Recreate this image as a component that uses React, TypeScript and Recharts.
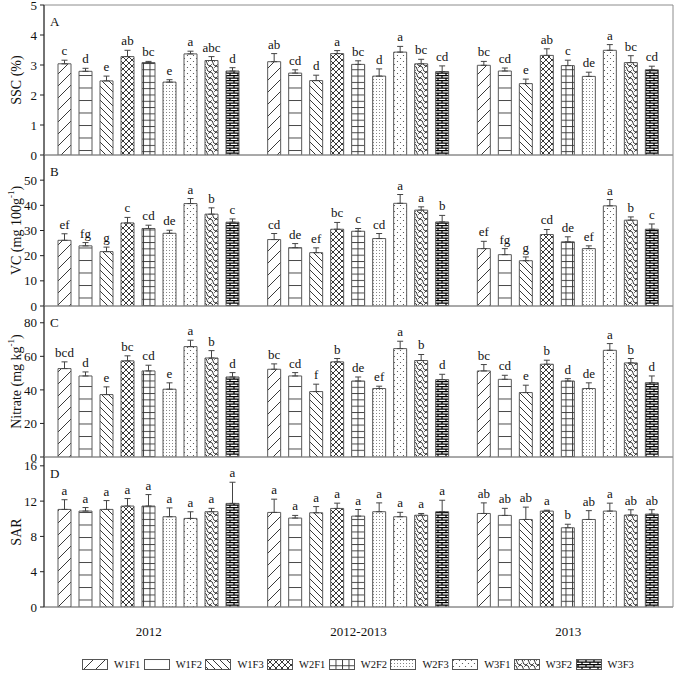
import React from 'react';
import { BarChart, Bar, XAxis, YAxis, ErrorBar, LabelList, ReferenceArea, Label, Legend } from 'recharts';

const FONT = '"Liberation Serif", "Times New Roman", serif';

const categories = ['2012', '2012-2013', '2013'];
const treatments = ['W1F1', 'W1F2', 'W1F3', 'W2F1', 'W2F2', 'W2F3', 'W3F1', 'W3F2', 'W3F3'];

// A: SSC (%)
const sscMeans = [
  [3.04, 2.79, 2.47, 3.28, 3.08, 2.43, 3.37, 3.15, 2.8],
  [3.11, 2.73, 2.48, 3.38, 3.02, 2.63, 3.43, 3.04, 2.78],
  [2.99, 2.8, 2.38, 3.32, 2.98, 2.62, 3.49, 3.08, 2.84],
];
const sscErrs = [
  [0.12, 0.1, 0.16, 0.21, 0.04, 0.08, 0.09, 0.13, 0.11],
  [0.27, 0.11, 0.18, 0.1, 0.12, 0.24, 0.19, 0.15, 0.19],
  [0.13, 0.1, 0.15, 0.22, 0.18, 0.14, 0.19, 0.23, 0.12],
];
const sscLetters = [
  ['c', 'd', 'e', 'ab', 'bc', 'e', 'a', 'abc', 'd'],
  ['ab', 'cd', 'd', 'a', 'bc', 'd', 'a', 'bc', 'cd'],
  ['bc', 'cd', 'e', 'ab', 'c', 'de', 'a', 'bc', 'cd'],
];

// B: VC (mg 100g-1)
const vcMeans = [
  [26.1, 23.9, 21.6, 33.0, 30.8, 28.9, 40.7, 36.5, 33.3],
  [26.4, 23.2, 21.2, 30.5, 29.7, 26.8, 40.8, 38.1, 33.4],
  [22.8, 20.4, 18.0, 28.4, 25.5, 22.8, 39.8, 34.1, 30.5],
];
const vcErrs = [
  [2.6, 1.3, 1.8, 2.2, 1.3, 1.2, 2.0, 2.5, 1.3],
  [2.4, 1.6, 1.9, 2.7, 1.1, 2.0, 3.5, 1.3, 2.6],
  [2.9, 2.4, 1.5, 2.0, 2.0, 1.1, 2.5, 1.3, 2.1],
];
const vcLetters = [
  ['ef', 'fg', 'g', 'c', 'cd', 'de', 'a', 'b', 'c'],
  ['cd', 'de', 'ef', 'bc', 'c', 'cd', 'a', 'a', 'b'],
  ['ef', 'fg', 'g', 'cd', 'de', 'ef', 'a', 'b', 'c'],
];

// C: Nitrate (mg kg-1)
const nitMeans = [
  [52.7, 48.3, 37.2, 57.3, 51.3, 40.4, 65.8, 59.0, 47.7],
  [52.3, 48.3, 39.0, 56.7, 45.3, 40.8, 64.6, 57.5, 46.1],
  [51.3, 46.3, 38.4, 55.3, 45.3, 40.8, 63.6, 56.1, 44.3],
];
const nitErrs = [
  [4.0, 2.4, 4.6, 3.0, 3.4, 3.8, 3.8, 4.4, 2.6],
  [3.2, 2.0, 4.4, 2.0, 2.4, 1.4, 4.4, 3.6, 3.2],
  [3.8, 2.4, 4.4, 2.4, 1.4, 3.4, 4.0, 2.6, 4.0],
];
const nitLetters = [
  ['bcd', 'd', 'e', 'bc', 'cd', 'e', 'a', 'b', 'd'],
  ['bc', 'cd', 'f', 'b', 'de', 'ef', 'a', 'b', 'd'],
  ['bc', 'cd', 'e', 'b', 'd', 'de', 'a', 'b', 'd'],
];

// D: SAR
const sarMeans = [
  [11.06, 10.87, 11.06, 11.44, 11.44, 10.23, 10.04, 10.8, 11.74],
  [10.72, 10.08, 10.68, 11.17, 10.3, 10.8, 10.23, 10.4, 10.8],
  [10.6, 10.38, 9.92, 10.87, 8.98, 9.92, 10.87, 10.42, 10.53],
];
const sarErrs = [
  [1.1, 0.4, 1.0, 0.85, 1.3, 1.0, 0.75, 0.38, 2.4],
  [1.5, 0.3, 0.7, 0.6, 0.75, 1.0, 0.5, 0.2, 1.3],
  [1.2, 0.8, 1.4, 0.1, 0.4, 1.0, 0.9, 0.6, 0.5],
];
const sarLetters = [
  ['a', 'a', 'a', 'a', 'a', 'a', 'a', 'a', 'a'],
  ['a', 'a', 'a', 'a', 'a', 'a', 'a', 'a', 'a'],
  ['ab', 'ab', 'ab', 'a', 'b', 'ab', 'a', 'ab', 'ab'],
];

const sscTicks = [0, 1, 2, 3, 4, 5];
const vcTicks = [0, 10, 20, 30, 40, 50];
const nitTicks = [0, 20, 40, 60, 80];
const sarTicks = [0, 4, 8, 12, 16];

function buildRows(means: number[][], errs: number[][], letters: string[][]) {
  return categories.map((c, ci) => {
    const row: any = { year: c };
    treatments.forEach((t, ti) => {
      row[t] = means[ci][ti];
      row[t + '_e'] = [0, errs[ci][ti]];
      row[t + '_l'] = `${letters[ci][ti]}|${errs[ci][ti]}|${means[ci][ti]}`;
    });
    return row;
  });
}

const PatternDefs = () => (
  <svg width={0} height={0} style={{ position: 'absolute', left: 0, top: 0 }}>
    <defs>
      <pattern id="pat0" patternUnits="userSpaceOnUse" width={12} height={12}>
        <rect width={12} height={12} fill="#fff" />
        <path d="M0,12 L12,0 M-3,3 L3,-3 M9,15 L15,9" stroke="#222" strokeWidth={0.9} />
      </pattern>
      <pattern id="pat1" patternUnits="userSpaceOnUse" width={6} height={12.5}>
        <rect width={6} height={12.5} fill="#fff" />
        <line x1={0} y1={0.5} x2={6} y2={0.5} stroke="#333" strokeWidth={0.9} />
      </pattern>
      <pattern id="pat2" patternUnits="userSpaceOnUse" width={7} height={7}>
        <rect width={7} height={7} fill="#fff" />
        <path d="M0,0 L7,7 M-2,5 L2,9 M5,-2 L9,2" stroke="#222" strokeWidth={0.9} />
      </pattern>
      <pattern id="pat3" patternUnits="userSpaceOnUse" width={6} height={6}>
        <rect width={6} height={6} fill="#fff" />
        <path d="M0,0 L6,6 M6,0 L0,6 M-1,5 L1,7 M5,-1 L7,1 M-1,1 L1,-1 M5,7 L7,5" stroke="#222" strokeWidth={0.9} />
      </pattern>
      <pattern id="pat4" patternUnits="userSpaceOnUse" width={6.5} height={6.3}>
        <rect width={6.5} height={6.3} fill="#fff" />
        <path d="M0,0.5 H6.5 M0.5,0 V6.3" stroke="#333" strokeWidth={0.9} />
      </pattern>
      <pattern id="pat5" patternUnits="userSpaceOnUse" width={3} height={3}>
        <rect width={3} height={3} fill="#fff" />
        <rect x={1} y={1} width={1} height={1} fill="#888" />
      </pattern>
      <pattern id="pat6" patternUnits="userSpaceOnUse" width={6} height={6}>
        <rect width={6} height={6} fill="#fff" />
        <circle cx={1.5} cy={1.5} r={0.6} fill="#444" />
        <circle cx={4.5} cy={4.5} r={0.6} fill="#444" />
      </pattern>
      <pattern id="pat7" patternUnits="userSpaceOnUse" width={6} height={6}>
        <rect width={6} height={6} fill="#fff" />
        <path d="M0,0 Q3,0.5 3,3 T6,6 M6,0 L4.3,1.7 M1.7,4.3 L0,6" stroke="#222" strokeWidth={0.9} fill="none" />
      </pattern>
      <pattern id="pat8" patternUnits="userSpaceOnUse" width={8} height={5}>
        <rect width={8} height={5} fill="#fff" />
        <path d="M0,0.6 H8 M0,3.1 H8 M2,0.6 V3.1 M6,3.1 V5.6" stroke="#000" strokeWidth={1.2} />
      </pattern>
    </defs>
  </svg>
);

const letterContent = (props: any) => {
  const vb = props.viewBox && props.viewBox.x != null ? props.viewBox : props;
  const x = Number(vb.x);
  const y = Number(vb.y);
  const w = Number(vb.width);
  const h = Math.abs(Number(vb.height));
  const raw = String(props.value ?? '');
  const [letter, eStr, mStr] = raw.split('|');
  const e = parseFloat(eStr);
  const m = parseFloat(mStr);
  const ppu = m ? h / m : 0;
  const top = Math.min(y, y + Number(vb.height));
  return (
    <text x={x + w / 2} y={top - e * ppu - 5} textAnchor="middle" fontFamily={FONT} fontSize={13} fill="#111">
      {letter}
    </text>
  );
};

type PanelProps = {
  top: number;
  height: number;
  marginTop: number;
  marginBottom: number;
  rows: any[];
  domain: [number, number];
  ticks: number[];
  title: React.ReactNode;
  tag: string;
  showX?: boolean;
  withLegend?: boolean;
};

const renderLegend = () => (
  <div style={{ height: 20, display: 'flex', alignItems: 'center', paddingLeft: 82, fontFamily: FONT, fontSize: 10.5, color: '#111' }}>
    {treatments.map((t, i) => (
      <div key={t} style={{ width: 61.7, display: 'flex', alignItems: 'center', flex: 'none' }}>
        <svg width={26} height={11} style={{ display: 'block' }}>
          <rect x={0.5} y={0.5} width={25} height={10} fill={`url(#pat${i})`} stroke="#555" strokeWidth={1} />
        </svg>
        <span style={{ marginLeft: 6, whiteSpace: 'nowrap' }}>{t}</span>
      </div>
    ))}
  </div>
);

function Panel({ top, height, marginTop, marginBottom, rows, domain, ticks, title, tag, showX, withLegend }: PanelProps) {
  return (
    <div style={{ position: 'absolute', left: 0, top }}>
      <BarChart
        width={675}
        height={height}
        data={rows}
        margin={{ top: marginTop, right: 2, bottom: marginBottom, left: 0 }}
        barSize={13}
        barGap={8}
      >
        <XAxis
          dataKey="year"
          hide={!showX}
          tickLine={false}
          axisLine={{ stroke: '#8c8c8c' }}
          tick={{ fontFamily: FONT, fontSize: 13, fill: '#111' }}
          height={47}
          tickMargin={14}
        />
        <YAxis
          domain={domain}
          ticks={ticks}
          allowDataOverflow
          width={44}
          interval={0}
          tickSize={4}
          tickMargin={3}
          tickLine={{ stroke: '#222' }}
          axisLine={{ stroke: '#222' }}
          tick={{ fontFamily: FONT, fontSize: 13, fill: '#111' }}
          label={
            <Label
              content={(p: any) => {
                const vb = p.viewBox || { x: 0, y: 0, width: 44, height: 150 };
                const cx = vb.x + 16;
                const cy = vb.y + vb.height / 2;
                return (
                  <text
                    x={cx}
                    y={cy}
                    transform={`rotate(-90 ${cx} ${cy})`}
                    textAnchor="middle"
                    dominantBaseline="central"
                    fontFamily={FONT}
                    fontSize={14}
                    fill="#111"
                  >
                    {title}
                  </text>
                );
              }}
            />
          }
        />
        <ReferenceArea
          y1={domain[0]}
          y2={domain[1]}
          fill="none"
          fillOpacity={0}
          stroke="#8c8c8c"
          strokeWidth={1}
          ifOverflow="visible"
          label={
            <Label
              content={(p: any) => {
                const vb = p.viewBox || { x: 44, y: 0 };
                return (
                  <text x={vb.x + 6} y={vb.y + 21} fontFamily={FONT} fontSize={13} fill="#111">
                    {tag}
                  </text>
                );
              }}
            />
          }
        />
        {treatments.map((t, i) => (
          <Bar
            key={t}
            dataKey={t}
            fill={`url(#pat${i})`}
            stroke="#5a5a5a"
            strokeWidth={1}
            isAnimationActive={false}
          >
            <ErrorBar dataKey={t + '_e'} width={3} stroke="#444" strokeWidth={1} direction="y" />
            <LabelList dataKey={t + '_l'} content={letterContent} />
          </Bar>
        ))}
        {withLegend ? <Legend verticalAlign="bottom" align="left" content={renderLegend} wrapperStyle={{ height: 20 }} /> : null}
      </BarChart>
    </div>
  );
}

const sscRows = buildRows(sscMeans, sscErrs, sscLetters);
const vcRows = buildRows(vcMeans, vcErrs, vcLetters);
const nitRows = buildRows(nitMeans, nitErrs, nitLetters);
const sarRows = buildRows(sarMeans, sarErrs, sarLetters);

export default function App() {
  return (
    <div style={{ position: 'absolute', left: 0, top: 0, width: 675, height: 674, overflow: 'hidden', background: '#fff' }}>
      <PatternDefs />
      <Panel top={0} height={165} marginTop={5} marginBottom={10} rows={sscRows} domain={[0, 5]} ticks={sscTicks} title="SSC (%)" tag="A" />
      <Panel
        top={135}
        height={181}
        marginTop={20}
        marginBottom={10}
        rows={vcRows}
        domain={[0, 60]}
        ticks={vcTicks}
        title={
          <>
            <tspan>VC (mg 100g</tspan>
            <tspan dy={-5} fontSize={9}>-1</tspan>
            <tspan dy={5}>)</tspan>
          </>
        }
        tag="B"
      />
      <Panel
        top={286}
        height={181}
        marginTop={20}
        marginBottom={10}
        rows={nitRows}
        domain={[0, 90]}
        ticks={nitTicks}
        title={
          <>
            <tspan>Nitrate (mg kg</tspan>
            <tspan dy={-5} fontSize={9}>-1</tspan>
            <tspan dy={5}>)</tspan>
          </>
        }
        tag="C"
      />
      <Panel
        top={437}
        height={237}
        marginTop={20}
        marginBottom={0}
        rows={sarRows}
        domain={[0, 17]}
        ticks={sarTicks}
        title="SAR"
        tag="D"
        showX
        withLegend
      />
    </div>
  );
}
